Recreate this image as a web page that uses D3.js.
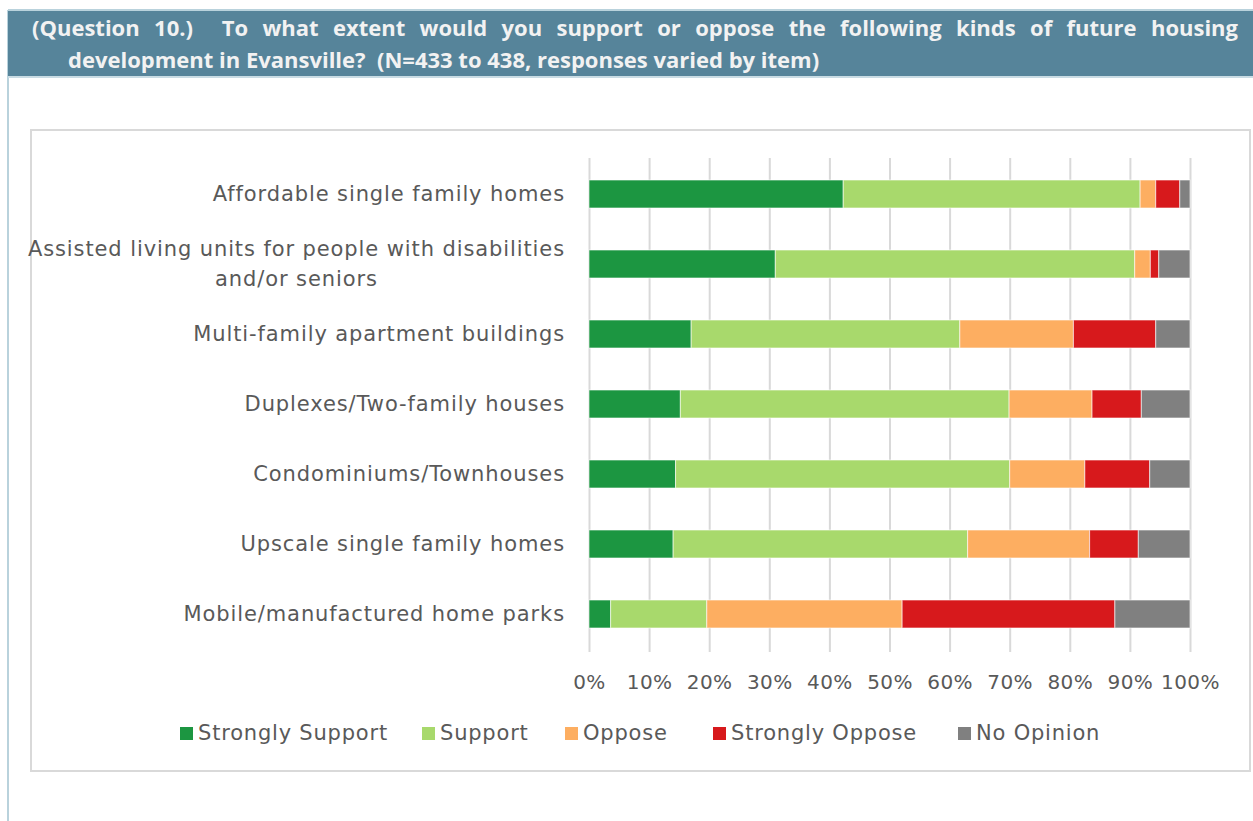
<!DOCTYPE html>
<html>
<head>
<meta charset="utf-8">
<script src="https://cdn.jsdelivr.net/npm/d3@7"></script>
<style>
  html, body { margin: 0; padding: 0; background: #fff; }
  svg { display: block; }
</style>
</head>
<body>
<svg id="chart" width="1253" height="821"></svg>
<script>
// categories, top to bottom
var categories = [
  'Affordable single family homes',
  'Assisted living units for people with disabilities|and/or seniors',
  'Multi-family apartment buildings',
  'Duplexes/Two-family houses',
  'Condominiums/Townhouses',
  'Upscale single family homes',
  'Mobile/manufactured home parks'
];
var seriesNames = ['Strongly Support', 'Support', 'Oppose', 'Strongly Oppose', 'No Opinion'];
var strongSupport = [42.3, 31.0, 17.0, 15.2, 14.4, 14.0, 3.6];
var support       = [49.4, 59.8, 44.7, 54.7, 55.6, 49.0, 16.0];
var oppose        = [2.6, 2.6, 18.9, 13.8, 12.5, 20.3, 32.5];
var strongOppose  = [4.0, 1.4, 13.7, 8.2, 10.8, 8.1, 35.4];
var noOpinion     = [1.7, 5.2, 5.7, 8.1, 6.7, 8.6, 12.5];
var tickValues = [0, 0.1, 0.2, 0.3, 0.4, 0.5, 0.6, 0.7, 0.8, 0.9, 1];
var colors = ['#1c9641', '#a8d96c', '#fdae61', '#d7191c', '#808080'];

var headerLine1 = '(Question 10.)  To what extent would you support or oppose the following kinds of future housing';
var headerLine2 = 'development in Evansville?  (N=433 to 438, responses varied by item)';

var svg = d3.select('#chart');
var gray = '#595959';
var labelFont = '"DejaVu Sans", sans-serif';

// page frame: left rule + header band
svg.append('rect').attr('x', 7).attr('y', 10).attr('width', 2).attr('height', 811).attr('fill', '#b9d2dc');
svg.append('rect').attr('x', 8).attr('y', 9).attr('width', 1245).attr('height', 2).attr('fill', '#b9d2dc');
svg.append('rect').attr('x', 8).attr('y', 11).attr('width', 1245).attr('height', 65).attr('fill', '#56849a');
svg.append('rect').attr('x', 8).attr('y', 76).attr('width', 1245).attr('height', 2).attr('fill', '#c9dce4');

// header text, first line justified word by word (a double space counts twice)
var hdr = svg.append('g')
  .style('font-family', '"Open Sans", sans-serif')
  .style('font-weight', 'bold')
  .style('font-size', '22px')
  .attr('fill', '#f2f2f2');
var parts = headerLine1.split(/( +)/);
var words = [], gapsBefore = [];
parts.forEach(function (p, i) {
  if (i % 2 === 0) words.push(p);
  else gapsBefore.push(p.length);
});
var wordNodes = words.map(function (w) {
  return hdr.append('text').attr('y', 36).text(w);
});
var widths = wordNodes.map(function (t) { return t.node().getComputedTextLength(); });
var gap = (1238 - 32 - d3.sum(widths)) / d3.sum(gapsBefore);
var cx = 32;
wordNodes.forEach(function (t, i) {
  t.attr('x', cx);
  cx += widths[i] + gap * (gapsBefore[i] || 0);
});
hdr.append('text').attr('x', 68).attr('y', 68).attr('xml:space', 'preserve').text(headerLine2);

// chart box
svg.append('rect')
  .attr('x', 31).attr('y', 130).attr('width', 1219).attr('height', 641)
  .attr('fill', '#fff').attr('stroke', '#d9d9d9').attr('stroke-width', 2);

var x = d3.scaleLinear().domain([0, 1]).range([589, 1190]);
var y = d3.scaleBand().domain(categories).range([159, 649]).paddingInner(0.6).paddingOuter(0.3);

// gridlines + tick labels
var xAxis = d3.axisBottom(x)
  .tickValues(tickValues)
  .tickSizeInner(-(652 - 158))
  .tickSizeOuter(0)
  .tickFormat(d3.format('.0%'));
var axisG = svg.append('g')
  .attr('transform', 'translate(0,652)')
  .call(xAxis);
axisG.select('.domain').remove();
axisG.selectAll('.tick line').attr('stroke', '#d9d9d9').attr('stroke-width', 2);
axisG.selectAll('.tick text')
  .attr('y', 30).attr('dy', '0.35em')
  .attr('fill', gray)
  .style('font-family', labelFont)
  .style('font-size', '20px')
  .style('letter-spacing', '0.4px');

// stacked bars
var rows = categories.map(function (c, i) {
  return {
    cat: c,
    'Strongly Support': strongSupport[i] / 100,
    'Support': support[i] / 100,
    'Oppose': oppose[i] / 100,
    'Strongly Oppose': strongOppose[i] / 100,
    'No Opinion': noOpinion[i] / 100
  };
});
var stacked = d3.stack().keys(seriesNames)
  .offset(d3.stackOffsetExpand)(rows);

svg.append('g').selectAll('g')
  .data(stacked)
  .join('g')
  .attr('fill', function (d, i) { return colors[i]; })
  .selectAll('rect')
  .data(function (d) { return d; })
  .join('rect')
  .attr('x', function (d) { return x(d[0]); })
  .attr('y', function (d) { return y(d.data.cat); })
  .attr('width', function (d) { return x(d[1]) - x(d[0]); })
  .attr('height', y.bandwidth())
  .attr('stroke', '#fff')
  .attr('stroke-opacity', 0.6)
  .attr('stroke-width', 1);

// category labels
var labels = svg.append('g')
  .style('font-family', labelFont)
  .style('font-size', '21px')
  .style('letter-spacing', '0.9px')
  .attr('fill', gray);
categories.forEach(function (c) {
  var lines = c.split('|');
  var cy = y(c) + y.bandwidth() / 2;
  if (lines.length === 1) {
    labels.append('text')
      .attr('x', 565).attr('y', cy).attr('dy', '0.35em')
      .attr('text-anchor', 'end')
      .text(lines[0]);
  } else {
    var first = labels.append('text')
      .attr('x', 565).attr('y', cy - 15).attr('dy', '0.35em')
      .attr('text-anchor', 'end')
      .text(lines[0]);
    var w = first.node().getComputedTextLength();
    labels.append('text')
      .attr('x', 565 - w / 2).attr('y', cy + 15).attr('dy', '0.35em')
      .attr('text-anchor', 'middle')
      .text(lines[1]);
  }
});

// legend
var legendX = [180, 422, 565, 713, 958];
var legend = svg.append('g')
  .style('font-family', labelFont)
  .style('font-size', '21px')
  .style('letter-spacing', '0.8px')
  .attr('fill', gray);
seriesNames.forEach(function (s, i) {
  legend.append('rect')
    .attr('x', legendX[i]).attr('y', 727)
    .attr('width', 13).attr('height', 13)
    .attr('fill', colors[i]);
  legend.append('text')
    .attr('x', legendX[i] + 18).attr('y', 733).attr('dy', '0.35em')
    .text(s);
});
</script>
</body>
</html>
